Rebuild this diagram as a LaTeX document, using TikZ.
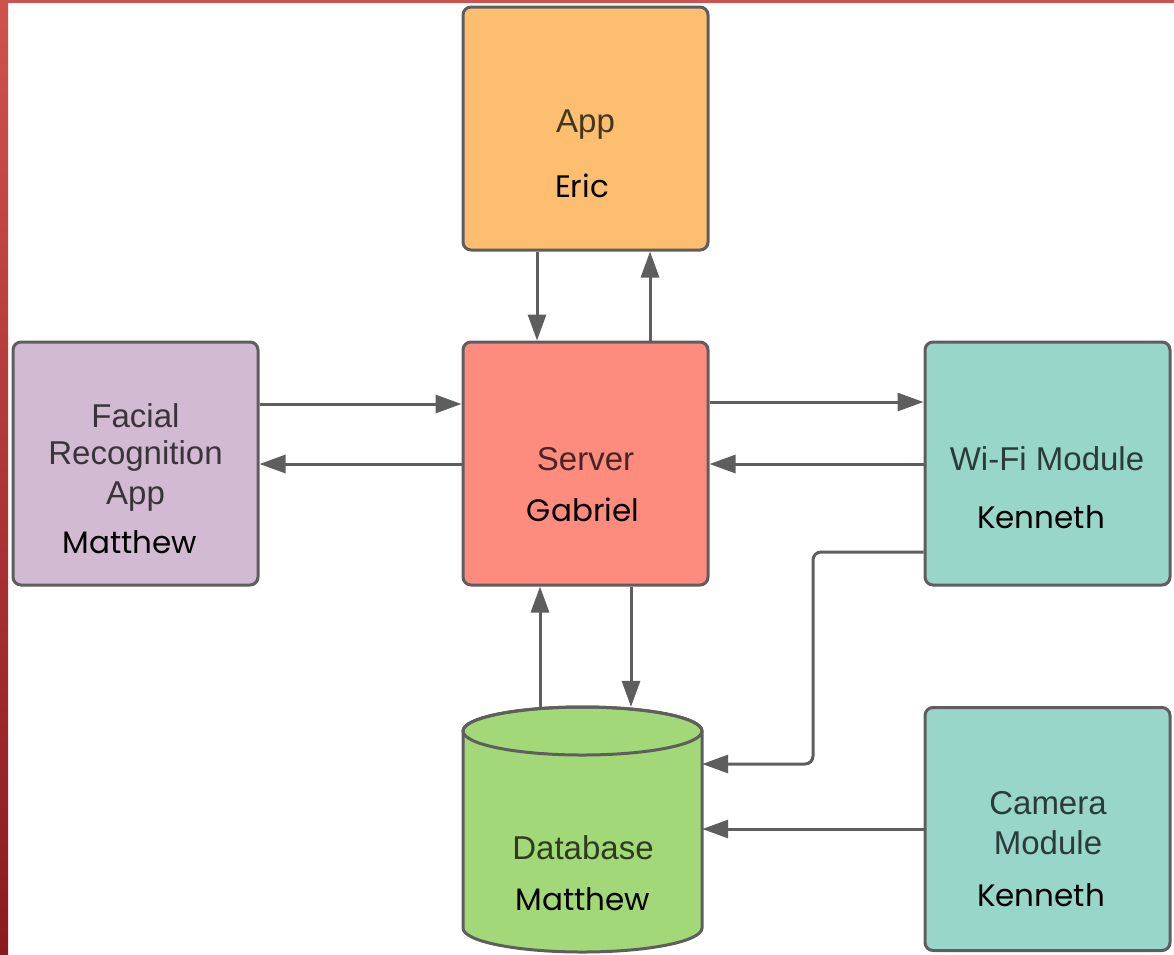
\documentclass[tikz,border=0pt]{standalone}
\usepackage{fontspec}
\setmainfont{Liberation Sans}
\newfontfamily\namefont{Poppins}
\usetikzlibrary{arrows.meta,calc}
\definecolor{edgegray}{HTML}{5E5E5E}
\definecolor{appfill}{HTML}{FDBF6F}
\definecolor{srvfill}{HTML}{FD8B7E}
\definecolor{frfill}{HTML}{D2BBD2}
\definecolor{tealfill}{HTML}{99D6CA}
\definecolor{dbfill}{HTML}{A2D877}
\definecolor{bartop}{HTML}{D0524E}
\definecolor{barbot}{HTML}{8B1A1F}
\tikzset{
  blockbox/.style={draw=edgegray, line width=3pt, rounded corners=8pt, minimum width=245pt, minimum height=243pt, inner sep=0pt},
  lbl/.style={font=\fontsize{33}{38}\selectfont, text=black, text opacity=0.72, align=center, inner sep=0pt},
  who/.style={font=\namefont\fontsize{31}{36}\selectfont, text=black, inner sep=0pt},
  arr/.style={draw=edgegray, line width=3pt, -{Triangle[length=26pt,width=18pt]}},
}
\begin{document}
\begin{tikzpicture}[x=1pt,y=-1pt]
\useasboundingbox (0,0) rectangle (1174,954);
\fill[white] (0,0) rectangle (1174,954);
\shade[top color=bartop, bottom color=barbot] (0,0) rectangle (8,954);
\fill[bartop] (0,0) rectangle (1174,3);

% boxes
\node[blockbox, fill=appfill] (app) at (585.5,128.5) {};
\node[blockbox, fill=srvfill] (srv) at (585.5,463.5) {};
\node[blockbox, fill=frfill] (fr) at (135.5,463.5) {};
\node[blockbox, fill=tealfill] (wf) at (1047.5,463.5) {};
\node[blockbox, fill=tealfill] (cam) at (1047.5,829) {};
\node[minimum width=239pt, minimum height=245pt, inner sep=0pt] (db) at (582.5,829.5) {};
\path[fill=dbfill, draw=edgegray, line width=3pt] (463,731) -- (463,928)
  arc[start angle=180, end angle=360, x radius=119.5pt, y radius=24pt]
  -- (702,731)
  arc[start angle=0, end angle=180, x radius=119.5pt, y radius=24pt] -- cycle;
\draw[edgegray, line width=3pt] (582.5,731) ellipse [x radius=119.5pt, y radius=24pt];

% texts
\node[lbl] (appT) at (585.5,125) {App};
\node[who] (appN) at (582,186) {Eric};
\node[lbl] (srvT) at (585.5,459) {Server};
\node[who] (srvN) at (583,510) {Gabriel};
\node[lbl] (frT1) at (135.5,416) {Facial};
\node[lbl] (frT2) at (135.5,456) {Recognition};
\node[lbl] (frT3) at (135.5,497) {App};
\node[who] (frN) at (130,542) {Matthew};
\node[lbl] (wfT) at (1047,459) {Wi-Fi Module};
\node[who] (wfN) at (1041,517) {Kenneth};
\node[lbl] (dbT) at (583,848) {Database};
\node[who] (dbN) at (583,899) {Matthew};
\node[lbl] (camT1) at (1048,803) {Camera};
\node[lbl] (camT2) at (1048,843) {Module};
\node[who] (camN) at (1041,895) {Kenneth};

% connectors
\draw[arr] (app.south -| 537,0) -- (srv.north -| 537,0);
\draw[arr] (srv.north -| 650,0) -- (app.south -| 650,0);
\draw[arr] (fr.east |- 0,404) -- (srv.west |- 0,404);
\draw[arr] (srv.west |- 0,464) -- (fr.east |- 0,464);
\draw[arr] (srv.east |- 0,402) -- (wf.west |- 0,402);
\draw[arr] (wf.west |- 0,464) -- (srv.east |- 0,464);
\draw[arr] (srv.south -| 631,0) -- (db.north -| 631,0);
\draw[arr] (db.north -| 540,0) -- (srv.south -| 540,0);
\draw[arr, rounded corners=8pt] (wf.west |- 0,552) -| (813,764) -- (db.east |- 0,764);
\draw[arr] (cam.west |- 0,829) -- (db.east |- 0,829);
\end{tikzpicture}
\end{document}
